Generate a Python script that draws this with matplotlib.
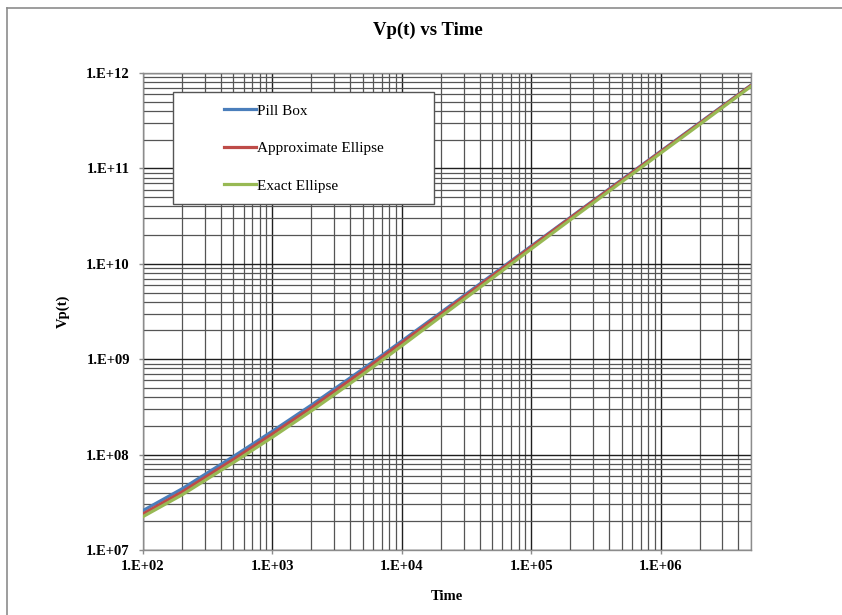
import numpy as np
import matplotlib
matplotlib.use("Agg")
import matplotlib.pyplot as plt
from matplotlib.ticker import LogLocator, FuncFormatter, NullFormatter
from matplotlib.patches import Rectangle


# Data

Time = [1e2, 2e2, 5e2, 1e3, 2e3, 5e3, 1e4, 2e4, 5e4, 1e5, 2e5, 5e5, 1e6, 2e6, 5e6]

Pill_Box = [2.59e7, 4.37e7, 9.55e7, 1.758e8, 3.30e8, 7.89e8, 1.549e9, 3.08e9, 7.66e9,
            1.531e10, 3.05e10, 7.59e10, 1.507e11, 3.00e11, 7.46e11]

Approx_Ellipse = [2.39e7, 4.05e7, 8.89e7, 1.644e8, 3.10e8, 7.48e8, 1.486e9, 2.97e9, 7.45e9,
                  1.50e10, 3.01e10, 7.48e10, 1.489e11, 2.96e11, 7.40e11]

Exact_Ellipse = [2.24e7, 3.78e7, 8.26e7, 1.521e8, 2.87e8, 6.92e8, 1.380e9, 2.79e9, 7.05e9,
                 1.429e10, 2.88e10, 7.21e10, 1.442e11, 2.88e11, 7.24e11]

Series_Names = ["Pill Box", "Approximate Ellipse", "Exact Ellipse"]
Series_Colors = ["#4A7EBB", "#BE4B48", "#98B954"]


# Style

plt.rcParams["font.family"] = ["Liberation Serif", "DejaVu Serif"]

W, H = 842, 615
fig = plt.figure(figsize=(W / 100, H / 100), dpi=100)
ax = fig.add_axes([143 / W, 1 - 550 / H, 608 / W, 477 / H])

# chart area border (only top and left visible in the crop)
fig.add_artist(plt.Line2D([7 / W, 1], [1 - 8 / H, 1 - 8 / H], color="#8c8c8c", lw=1.2))
fig.add_artist(plt.Line2D([7 / W, 7 / W], [0, 1 - 8 / H], color="#8c8c8c", lw=1.2))


# Plotting

for Values, Name, Color in zip([Pill_Box, Approx_Ellipse, Exact_Ellipse], Series_Names, Series_Colors):
    ax.plot(Time, Values, color=Color, lw=2.3, label=Name, solid_joinstyle="round", zorder=3)

ax.set_xscale("log")
ax.set_yscale("log")
ax.set_xlim(1e2, 5e6)
ax.set_ylim(1e7, 1e12)

ax.xaxis.set_major_locator(LogLocator(base=10))
ax.yaxis.set_major_locator(LogLocator(base=10))
ax.xaxis.set_minor_locator(LogLocator(base=10, subs=np.arange(2, 10)))
ax.yaxis.set_minor_locator(LogLocator(base=10, subs=np.arange(2, 10)))
ax.xaxis.set_minor_formatter(NullFormatter())
ax.yaxis.set_minor_formatter(NullFormatter())

Exp_Fmt = FuncFormatter(lambda v, p: "1.E+%02d" % int(round(np.log10(v))))
ax.xaxis.set_major_formatter(Exp_Fmt)
ax.yaxis.set_major_formatter(Exp_Fmt)

ax.grid(which="major", color="#1e1e1e", lw=1.0)
ax.grid(which="minor", color="#555555", lw=0.9)
ax.set_axisbelow(True)

for s in ax.spines.values():
    s.set_color("#8c8c8c")
    s.set_linewidth(1.0)

ax.tick_params(which="major", direction="out", length=3, color="#8c8c8c", width=1.0)
ax.tick_params(which="minor", length=0)
ax.tick_params(axis="y", pad=6.5)
ax.tick_params(axis="x", pad=4.5)
for lbl in ax.get_xticklabels() + ax.get_yticklabels():
    lbl.set_fontweight("bold")
    lbl.set_fontsize(10.5)

ax.set_xlabel("Time", fontsize=10.5, fontweight="bold", labelpad=12)
ax.set_ylabel("Vp(t)", fontsize=10.5, fontweight="bold", labelpad=12)

fig.text(428 / W, 1 - 30 / H, "Vp(t) vs Time", ha="center", va="center",
         fontsize=13.5, fontweight="bold")


# Legend box

x0, x1 = (173 - 143) / 608, (434 - 143) / 608
y0, y1 = (550 - 204) / 477, (550 - 92) / 477
ax.add_patch(Rectangle((x0, y0), x1 - x0, y1 - y0, transform=ax.transAxes,
                       facecolor="white", edgecolor="#555555", lw=1.0, zorder=4, clip_on=False))

ax.legend(loc="upper left", bbox_to_anchor=((224 - 143) / 608, (550 - 104) / 477),
          frameon=False, fontsize=11, handlelength=2.1, handletextpad=0.05,
          labelspacing=1.56, borderpad=0, borderaxespad=0)

plt.savefig("out.png", dpi=100)
